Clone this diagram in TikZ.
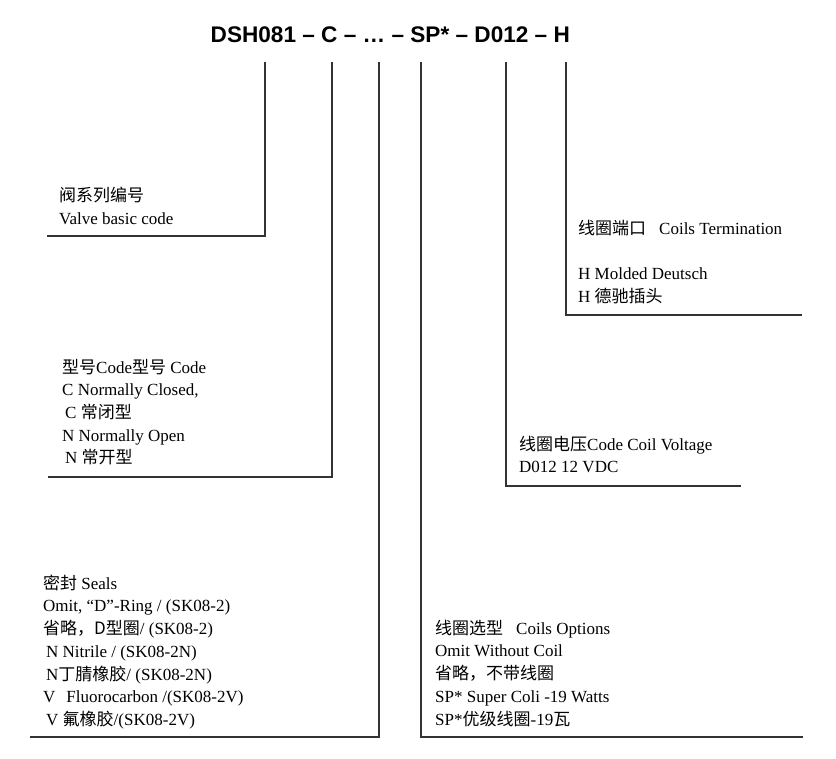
\documentclass[tikz,border=0pt]{standalone}
\usepackage{fontspec}
\setmainfont{Liberation Serif}
\newfontfamily\cjk{Noto Sans CJK SC}
\newfontfamily\titlefont{Liberation Sans}
\newcommand\zh[1]{{\cjk #1}}
\begin{document}
\begin{tikzpicture}[x=1pt,y=-1pt,
  lead/.style={line width=1.6pt, black!80},
  blk/.style={anchor=north west, inner sep=0pt, align=left, font=\fontsize{17}{22.7}\selectfont},
]
\useasboundingbox (0,0) rectangle (836,759);
\fill[white] (0,0) rectangle (836,759);
\node[anchor=base west, inner sep=0pt, font=\titlefont\bfseries\fontsize{22.6}{27}\selectfont] (title) at (210.5,43) {DSH081 – C – … – SP* – D012 – H};

\coordinate (t1) at (265,62);  \coordinate (e1) at (47,236);
\coordinate (t2) at (332,62);  \coordinate (e2) at (48,477);
\coordinate (t3) at (379,62);  \coordinate (e3) at (30,737);
\coordinate (t4) at (421,62);  \coordinate (e4) at (803,737);
\coordinate (t5) at (506,62);  \coordinate (e5) at (741,486);
\coordinate (t6) at (566,62);  \coordinate (e6) at (802,315);
\foreach \i in {1,...,6} { \draw[lead] (t\i) |- (e\i); }

\node[blk] (valve) at (59,185.5) {\rule{0pt}{16pt}\zh{阀系列编号}\\Valve basic code};

\node[blk] (code) at (62,357) {\rule{0pt}{16pt}\zh{型号}Code\zh{型号} Code\\
C Normally Closed,\\
\hspace*{3pt}C \zh{常闭型}\\
N Normally Open\\
\hspace*{3pt}N \zh{常开型}};

\node[blk] (seals) at (43,573) {\rule{0pt}{16pt}\zh{密封} Seals\\
Omit, “D”-Ring / (SK08-2)\\
\zh{省略，D型圈}/ (SK08-2)\\
\hspace*{3pt}N Nitrile / (SK08-2N)\\
\hspace*{3pt}N\zh{丁腈橡胶}/ (SK08-2N)\\
V\hspace{11pt}Fluorocarbon /(SK08-2V)\\
\hspace*{3pt}V \zh{氟橡胶}/(SK08-2V)};

\node[blk] (coils) at (435,618) {\rule{0pt}{16pt}\zh{线圈选型}\hspace{13pt}Coils Options\\
Omit Without Coil\\
\zh{省略，不带线圈}\\
SP* Super Coli -19 Watts\\
SP*\zh{优级线圈}-19\zh{瓦}};

\node[blk] (term) at (578,218) {\rule{0pt}{16pt}\zh{线圈端口}\hspace{13pt}Coils Termination\\[22.7pt]
H Molded Deutsch\\
H \zh{德驰插头}};

\node[blk] (volt) at (519,434) {\rule{0pt}{16pt}\zh{线圈电压}Code Coil Voltage\\
D012 12 VDC};
\end{tikzpicture}
\end{document}
